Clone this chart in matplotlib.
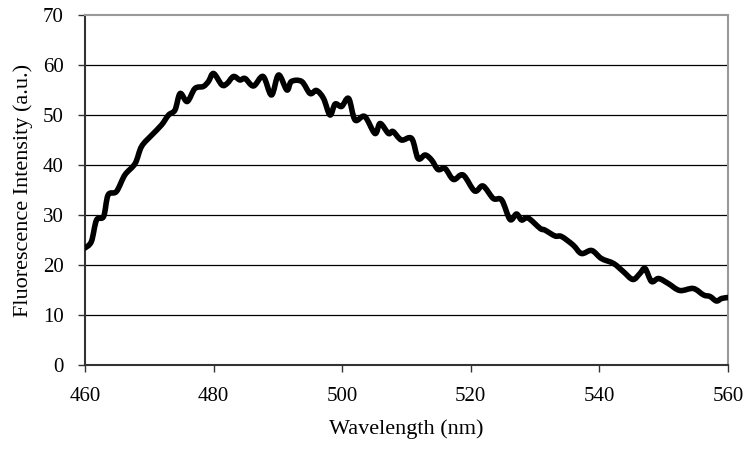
import matplotlib

matplotlib.use("Agg")

import matplotlib.pyplot as plt
from matplotlib.patches import PathPatch
from matplotlib.path import Path

# emission spectrum, values
wavelength = [
    460.0, 461.0, 461.8, 462.9, 463.6, 464.9, 466.2, 467.8, 468.8, 470.4,
    471.9, 473.0, 474.0, 474.8, 475.9, 477.1, 478.4, 479.2, 480.0, 481.3,
    482.1, 483.1, 484.1, 484.9, 486.2, 487.7, 489.0, 490.1, 491.4, 492.1,
    493.7, 495.0, 496.0, 497.1, 498.1, 498.9, 499.9, 501.0, 502.0, 503.5,
    505.1, 505.9, 507.2, 507.9, 509.2, 510.8, 511.8, 512.9, 513.9, 514.9,
    516.0, 517.3, 518.8, 520.6, 521.9, 523.5, 524.8, 526.1, 527.1, 527.9,
    528.9, 530.8, 531.5, 533.1, 534.1, 535.9, 537.2, 538.8, 540.3, 542.2,
    543.7, 545.2, 546.3, 547.1, 548.1, 549.2, 550.7, 552.5, 554.6, 556.2,
    557.2, 558.2, 559.0, 560.0,
]
intensity = [
    23.4, 24.7, 29.0, 29.7, 34.0, 34.7, 38.0, 40.3, 43.7, 46.0,
    48.0, 50.0, 51.0, 54.3, 52.7, 55.3, 55.7, 56.7, 58.3, 56.0,
    56.3, 57.7, 57.0, 57.3, 55.8, 57.7, 54.0, 58.0, 55.0, 56.7,
    56.7, 54.3, 54.9, 53.3, 50.0, 52.2, 51.7, 53.3, 49.0, 49.7,
    46.3, 48.3, 46.3, 46.7, 45.0, 45.3, 41.3, 42.0, 41.0, 39.1,
    39.3, 37.1, 38.0, 34.8, 35.8, 33.3, 33.0, 29.1, 30.2, 29.0,
    29.4, 27.3, 27.0, 25.8, 25.7, 24.0, 22.3, 22.9, 21.3, 20.3,
    18.7, 17.1, 18.3, 19.3, 16.7, 17.3, 16.3, 14.9, 15.3, 14.0,
    13.7, 12.8, 13.3, 13.5,
]
x_ticks = [460, 480, 500, 520, 540, 560]
y_ticks = [0, 10, 20, 30, 40, 50, 60, 70]


def smooth_path(xs, ys):
    # Excel-style smoothed line: Catmull-Rom segments as cubic Beziers
    verts = [(xs[0], ys[0])]
    codes = [Path.MOVETO]
    n = len(xs)
    for i in range(n - 1):
        x0, y0 = (xs[i - 1], ys[i - 1]) if i > 0 else (xs[i], ys[i])
        x1, y1 = xs[i], ys[i]
        x2, y2 = xs[i + 1], ys[i + 1]
        x3, y3 = (xs[i + 2], ys[i + 2]) if i + 2 < n else (x2, y2)
        c1 = (x1 + (x2 - x0) / 6, y1 + (y2 - y0) / 6)
        c2 = (x2 - (x3 - x1) / 6, y2 - (y3 - y1) / 6)
        verts += [c1, c2, (x2, y2)]
        codes += [Path.CURVE4] * 3
    return Path(verts, codes)


plt.rcParams["font.family"] = ["Liberation Serif", "DejaVu Serif"]

fig = plt.figure(figsize=(7.48, 4.5), dpi=100)
ax = fig.add_axes([0.1136, 0.1889, 0.8597, 0.7778])

for y in y_ticks[1:-1]:
    ax.axhline(y, color="black", lw=0.9, zorder=1)

ax.add_patch(PathPatch(smooth_path(wavelength, intensity), fill=False,
                       edgecolor="black", lw=4.0, joinstyle="round",
                       capstyle="round", zorder=3))

ax.set_xlim(460, 560)
ax.set_ylim(0, 70)
ax.set_xticks(x_ticks)
ax.set_yticks(y_ticks)
ax.tick_params(direction="out", length=5, width=1, color="#333333",
               labelsize=15, pad=10.5)

for side in ["left", "bottom"]:
    ax.spines[side].set_color("#333333")
    ax.spines[side].set_linewidth(1.5)
for side in ["top", "right"]:
    ax.spines[side].set_color("#999999")
    ax.spines[side].set_linewidth(1.5)

ax.set_xlabel("Wavelength (nm)", fontsize=16, labelpad=10)
ax.set_ylabel("Fluorescence Intensity (a.u.)", fontsize=16, labelpad=7)

fig.savefig("out.png", dpi=100)
